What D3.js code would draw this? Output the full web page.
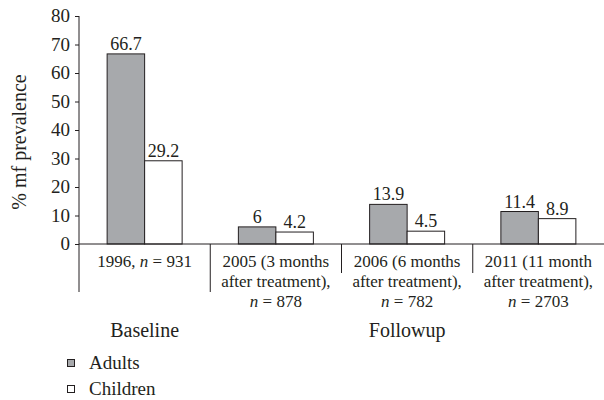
<!DOCTYPE html>
<html><head><meta charset="utf-8">
<script src="https://cdn.jsdelivr.net/npm/d3@7"></script>
</head><body style="margin:0">
<script>
const categories = ["1996", "2005", "2006", "2011"];
const categoryLabels = [
  ["1996, n = 931"],
  ["2005 (3 months", "after treatment),", "n = 878"],
  ["2006 (6 months", "after treatment),", "n = 782"],
  ["2011 (11 month", "after treatment),", "n = 2703"]
];
const seriesNames = ["Adults", "Children"];
const adults = [66.7, 6, 13.9, 11.4];
const children = [29.2, 4.2, 4.5, 8.9];
const valueLabels = [["66.7","29.2"],["6","4.2"],["13.9","4.5"],["11.4","8.9"]];
const yTicks = [0, 10, 20, 30, 40, 50, 60, 70, 80];
const groups = [{name:"Baseline", cats:["1996"]}, {name:"Followup", cats:["2005","2006","2011"]}];
const colors = {Adults:"#a7a9ac", Children:"#ffffff"};

const W = 604, H = 400;
const ink = "#231f20";
const svg = d3.select("body").append("svg").attr("width", W).attr("height", H).style("display", "block");

const x = d3.scaleBand().domain(categories).range([79, 604]).paddingInner(0).paddingOuter(0);
const xs = d3.scaleBand().domain(seriesNames).range([0, x.bandwidth()]).paddingInner(0).paddingOuter(0.75);
const y = d3.scaleLinear().domain([0, 80]).range([244, 16]);

function txt(parent, size) {
  return parent.append("text").style("font-family", `"Liberation Serif"`).attr("font-size", size).attr("fill", ink);
}

// y axis ticks (drawn from the scale)
const yAxis = d3.axisLeft(y).tickValues(yTicks).tickSize(4).tickPadding(5).tickSizeOuter(0);
const gy = svg.append("g").attr("transform", "translate(79,0)").call(yAxis);
gy.select(".domain").remove();
gy.selectAll(".tick line").attr("stroke", ink);
gy.selectAll(".tick text").remove();
yTicks.forEach(v => {
  txt(svg, 19).attr("x", 70).attr("y", y(v)).attr("dy", "0.34em").attr("text-anchor", "end").text(v);
});
svg.append("line").attr("x1", 79).attr("x2", 79).attr("y1", y(80)).attr("y2", 292).attr("stroke", ink);

// bars
const g = svg.append("g");
categories.forEach((c, i) => {
  const vals = [adults[i], children[i]];
  seriesNames.forEach((s, j) => {
    g.append("rect")
      .attr("x", x(c) + xs(s)).attr("y", y(vals[j]))
      .attr("width", xs.bandwidth()).attr("height", y(0) - y(vals[j]))
      .attr("fill", colors[s]).attr("stroke", ink).attr("stroke-width", 1);
    txt(g, 18).attr("x", x(c) + xs(s) + xs.bandwidth()/2).attr("y", y(vals[j]) - 4)
      .attr("text-anchor", "middle").text(valueLabels[i][j]);
  });
});

// x axis line
svg.append("line").attr("x1", 79).attr("x2", 604).attr("y1", y(0)).attr("y2", y(0)).attr("stroke", ink);
// separators
const sepLen = [48, 29, 29];
categories.slice(1).forEach((c, i) => {
  svg.append("line").attr("x1", x(c)).attr("x2", x(c)).attr("y1", y(0)).attr("y2", y(0) + sepLen[i]).attr("stroke", ink);
});

// category labels
function addLine(sel, str) {
  const parts = str.split(/\bn(?= =)/);
  parts.forEach((p, k) => {
    if (k > 0) sel.append("tspan").attr("font-style", "italic").text("n");
    sel.append("tspan").text(p);
  });
}
categoryLabels.forEach((lines, i) => {
  lines.forEach((ln, k) => {
    const t = txt(svg, 17).attr("x", x(categories[i]) + x.bandwidth()/2).attr("y", 267 + k*20)
      .attr("text-anchor", "middle");
    addLine(t, ln);
  });
});

// group labels
groups.forEach(gr => {
  const x0 = x(gr.cats[0]), x1 = x(gr.cats[gr.cats.length-1]) + x.bandwidth();
  txt(svg, 20).attr("x", (x0 + x1)/2).attr("y", 337).attr("text-anchor", "middle").text(gr.name);
});

// y title
txt(svg, 20).attr("transform", "translate(26,142) rotate(-90)").attr("text-anchor", "middle").text("% mf prevalence");

// legend
seriesNames.forEach((s, i) => {
  const ly = 363 + i*26;
  svg.append("rect").attr("x", 67.5).attr("y", ly - 3.5).attr("width", 7).attr("height", 7).attr("fill", colors[s]).attr("stroke", ink);
  txt(svg, 19).attr("x", 89).attr("y", ly + 6).text(s);
});
</script>
</body></html>
